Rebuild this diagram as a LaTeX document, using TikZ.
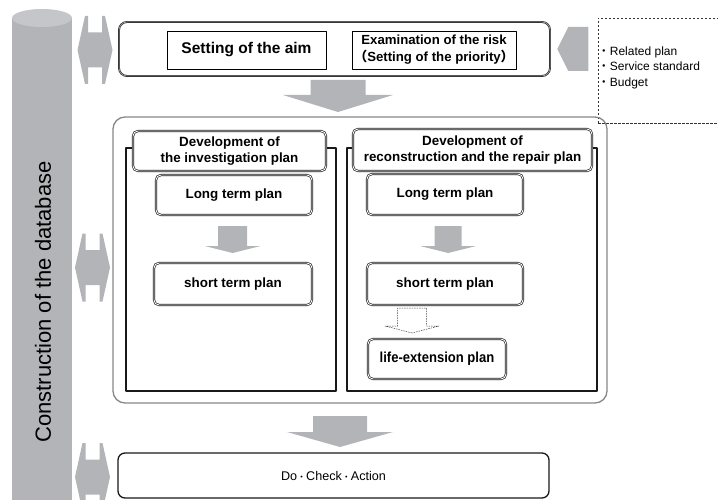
\documentclass[tikz,border=0pt]{standalone}
\usepackage{fontspec}
\setmainfont{Liberation Sans}
\newfontfamily\narrowfont[FakeStretch=0.9]{Liberation Sans}
\newfontfamily\cjk{Noto Sans CJK JP}
\usetikzlibrary{positioning,calc}
\definecolor{arrowgray}{RGB}{179,180,184}
\definecolor{dbgray}{RGB}{179,180,184}
\definecolor{dbtop}{RGB}{197,198,201}
\definecolor{framegray}{RGB}{135,135,138}
% block arrow pointing down: [style]{tip}{shaft half}{head half}{head length}{shaft length}
\newcommand{\downblock}[6][fill=arrowgray]{%
  \path[#1] (#2) -- ++(-#4,-#5) -- ++(#4-#3,0) -- ++(0,-#6) -- ++(2*#3,0) -- ++(0,#6) -- ++(#4-#3,0) -- cycle;}
\begin{document}
\begin{tikzpicture}[x=1pt, y=-1pt, line join=round,
    frame/.style={draw=black!85, line width=0.7pt, double=gray!55, double distance=0.5pt, rounded corners=8pt},
    textbox/.style={draw=black, line width=0.6pt, inner sep=0pt},
    planbox/.style={draw=black!90, line width=0.65pt, double=white, double distance=0.9pt,
      rounded corners=5pt, fill=white, inner sep=0pt, align=center,
      font=\bfseries\fontsize{13.4}{16}\selectfont},
    panel/.style={draw=black!90, line width=1.2pt, inner sep=0pt},
    notebox/.style={draw=black!80, line width=0.6pt, dash pattern=on 2.5pt off 1.5pt, inner sep=0pt}]
  \useasboundingbox (0,0) rectangle (718,500);
  \clip (0,0) rectangle (718,500);
  % Database column
  \fill[dbgray] (12,18) rectangle (72,510);
  \fill[dbtop] (42,18) ellipse [x radius=30, y radius=9];
  \node[rotate=90, inner sep=0pt, font=\fontsize{22}{24}\selectfont] (db) at (43,302) {Construction of the database};
  % Exchange arrows
  \foreach \x/\y in {95/50, 92.5/267.5, 92.5/477}
    \fill[arrowgray, shift={(\x,\y)}] (-17.5,0) -- (-10,-34) -- (-7,-34) -- (-7,-17.5) -- (7,-17.5) -- (7,-34)
      -- (10,-34) -- (17.5,0) -- (10,34) -- (7,34) -- (7,17.5) -- (-7,17.5) -- (-7,34) -- (-10,34) -- cycle;
  % Aim layer
  \node[frame, minimum width=431pt, minimum height=54pt] (aim-frame) at (334.5,49) {};
  \node[textbox, minimum width=159pt, minimum height=38pt, font=\bfseries\fontsize{15.5}{18}\selectfont] (aim) at (246.5,50) {Setting of the aim};
  \node[textbox, minimum width=164pt, minimum height=38pt, align=center, font=\bfseries\fontsize{13.2}{17}\selectfont] (risk) at (434,50)
    {Examination of the risk\\{\cjk （}Setting of the priority{\cjk ）}};
  % Outside conditions
  \node[notebox, minimum width=132pt, minimum height=105pt] (conditions) at (664,70.5) {};
  \node[anchor=west, inner sep=0pt, align=left, font=\fontsize{12}{15.5}\selectfont] (conditions-list) at ([yshift=3pt]conditions.west)
    {{\cjk ・}Related plan\\{\cjk ・}Service standard\\{\cjk ・}Budget};
  \coordinate (input-tip) at ([xshift=7pt]aim-frame.east);
  \fill[arrowgray] (input-tip) -- ++(11,-22) -- ++(20,0) -- ++(0,44) -- ++(-20,0) -- cycle;
  % First arrow
  \coordinate (tip-1) at (338,112);
  \downblock{tip-1}{27.5}{55}{17}{15}
  % Plan layer
  \node[draw=framegray, line width=1.3pt, rounded corners=12pt, minimum width=494pt, minimum height=286pt] (mid-frame) at (360,260) {};
  \node[panel, minimum width=210pt, minimum height=243pt] (panel-1) at (231,269.5) {};
  \node[panel, minimum width=250pt, minimum height=243pt] (panel-2) at (472,269.5) {};
  \node[planbox, minimum width=193pt, minimum height=40pt] (head-1) at (229.5,151) {Development of\\the investigation plan};
  \node[planbox, minimum width=239pt, minimum height=42pt] (head-2) at (472.5,150) {Development of\\reconstruction and the repair plan};
  % Long and short term plans
  \node[planbox, minimum width=156pt, minimum height=40pt] (long-1) at (234,195) {Long term plan};
  \node[planbox, minimum width=158pt, minimum height=42pt] (short-1) at (233,284) {short term plan};
  \node[planbox, minimum width=156pt, minimum height=41pt] (long-2) at (445,194.5) {Long term plan};
  \node[planbox, minimum width=156pt, minimum height=42pt] (short-2) at (445,284) {short term plan};
  \node[planbox, minimum width=138pt, minimum height=40pt, font=\narrowfont\bfseries\fontsize{14.5}{16}\selectfont] (life) at (437,359) {life-extension plan};
  % Plan arrows
  \coordinate (tip-2) at (232.5,253);
  \coordinate (tip-3) at (448,253);
  \coordinate (tip-4) at (412,333);
  \downblock{tip-2}{14.5}{28}{7}{20}
  \downblock{tip-3}{13.5}{28}{7}{20}
  \downblock[draw=black!75, line width=0.5pt, dash pattern=on 1.5pt off 1pt]{tip-4}{14.5}{27}{7}{18}
  % Action layer
  \coordinate (tip-5) at (340,447);
  \downblock{tip-5}{27}{53}{15}{16}
  \node[draw=black!90, line width=1.3pt, rounded corners=7pt, minimum width=431pt, minimum height=45pt, font=\fontsize{12.6}{14}\selectfont] (dca) at (333.5,475.5)
    {Do{\cjk\fontsize{9}{9}\selectfont ・}Check{\cjk\fontsize{9}{9}\selectfont ・}Action};
\end{tikzpicture}
\end{document}
